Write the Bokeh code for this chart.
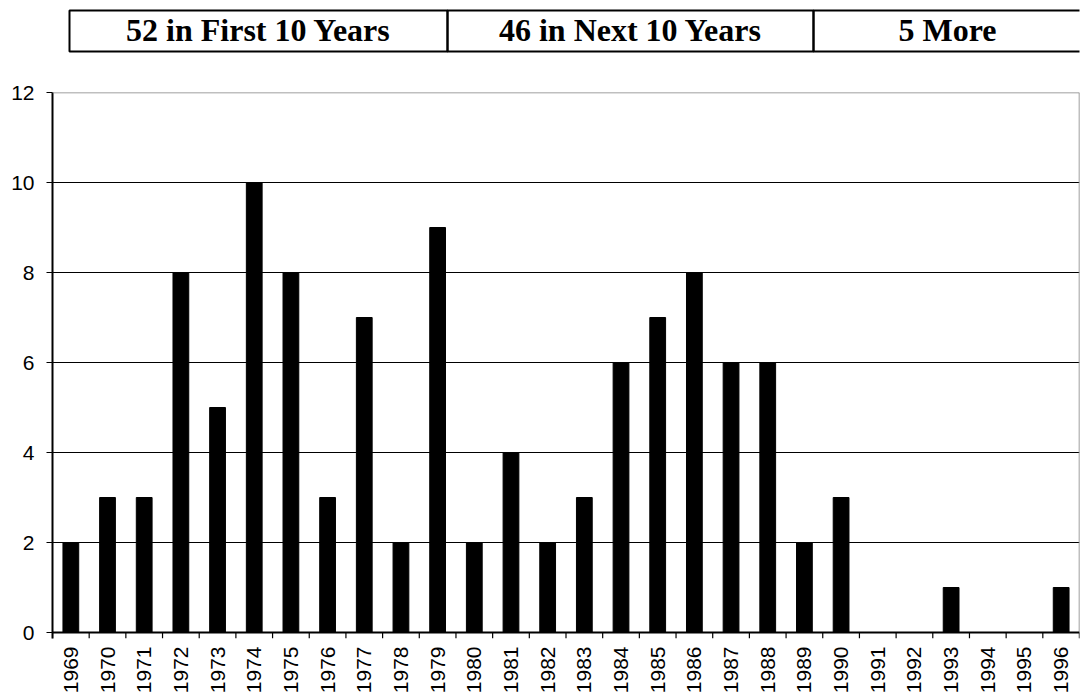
import math
from bokeh.plotting import figure
from bokeh.layouts import column
from bokeh.models import Range1d, FixedTicker, LinearAxis, Span
from bokeh.core.properties import value
from bokeh.embed import file_html
from bokeh.resources import INLINE

# ---- data ----
years = list(range(1969, 1997))
counts = [2, 3, 3, 8, 5, 10, 8, 3, 7, 2, 9, 2, 4, 2, 3, 6, 7, 8, 6, 6, 2, 3, 0, 0, 1, 0, 0, 1]
period_labels = ["52 in First 10 Years", "46 in Next 10 Years", "5 More"]
y_ticks = [0, 2, 4, 6, 8, 10, 12]

# ---- layout constants (pixels) ----
W = 1081
HDR_H = 60
MAIN_H = 698 - HDR_H
FRAME_L, FRAME_R = 52, 1079
box_edges = [69, 447, 813, 1090]
box_top, box_bottom = 10, 51
PX_PER_UNIT = 45.0
X_TICK_PX = 6

SANS = "Liberation Sans"
SERIF = "Liberation Serif"

# ---- header strip ----
hdr = figure(width=W, height=HDR_H, x_range=Range1d(FRAME_L, FRAME_R), y_range=Range1d(HDR_H, 0),
             output_backend="svg", toolbar_location=None,
             x_axis_location=None, y_axis_location=None,
             min_border_left=FRAME_L, min_border_right=W - FRAME_R,
             min_border_top=0, min_border_bottom=0)
hdr.grid.visible = False
hdr.outline_line_color = None
hdr.quad(left=box_edges[:-1], right=box_edges[1:], top=box_top, bottom=box_bottom,
         fill_color=None, line_color="black", line_width=2)
centers = [(min(box_edges[i + 1], W) + box_edges[i]) / 2 for i in range(len(period_labels))]
hdr.text(x=centers, y=[(box_top + box_bottom) / 2 - 1] * len(centers), text=period_labels,
         text_font=value(SERIF), text_font_style="bold", text_font_size="32px",
         text_align="center", text_baseline="middle", text_color="black")

# ---- main chart ----
y_lo = -X_TICK_PX / PX_PER_UNIT
p = figure(width=W, height=MAIN_H,
           x_range=Range1d(years[0] - 0.5, years[-1] + 0.5), y_range=Range1d(y_lo, 12),
           output_backend="svg", toolbar_location=None, x_axis_location=None,
           min_border_left=FRAME_L, min_border_right=W - FRAME_R,
           min_border_top=32, min_border_bottom=60)

p.outline_line_color = None
p.xgrid.visible = False
p.ygrid.ticker = FixedTicker(ticks=[t for t in y_ticks if 0 < t < 12])
p.ygrid.grid_line_color = "black"
p.ygrid.grid_line_width = 1

# top and right grey frame edges
p.add_layout(Span(location=12, dimension="width", line_color="#808080", line_width=1.5))
p.add_layout(Span(location=years[-1] + 0.5, dimension="height", line_color="#808080", line_width=1.5))

p.vbar(x=years, top=counts, width=0.43, fill_color="black", line_color="black")

# x axis baseline and boundary tick marks
p.add_layout(Span(location=0, dimension="width", line_color="black", line_width=2))
bounds = [y - 0.5 for y in years] + [years[-1] + 0.5]
p.segment(x0=bounds, y0=[0] * len(bounds), x1=bounds, y1=[y_lo] * len(bounds),
          line_color="black", line_width=1.2)

ya = p.yaxis[0]
ya.ticker = FixedTicker(ticks=y_ticks)
ya.major_label_text_font = SANS
ya.major_label_text_font_size = "21px"
ya.major_label_text_color = "black"
ya.major_tick_out = 6
ya.major_tick_in = 0
ya.minor_tick_line_color = None
ya.axis_line_width = 2
ya.axis_line_color = "black"
ya.major_tick_line_color = "black"
ya.major_label_standoff = 12

label_axis = LinearAxis(ticker=FixedTicker(ticks=years), major_tick_line_color=None,
                        major_tick_out=0, major_tick_in=0,
                        axis_line_color=None, minor_tick_line_color=None,
                        major_label_orientation=math.pi / 2,
                        major_label_text_font=SANS, major_label_text_font_size="21px",
                        major_label_text_color="black", major_label_standoff=8)
p.add_layout(label_axis, "below")

layout = column(hdr, p, spacing=0)
open("out.html", "w").write(file_html(layout, INLINE))
